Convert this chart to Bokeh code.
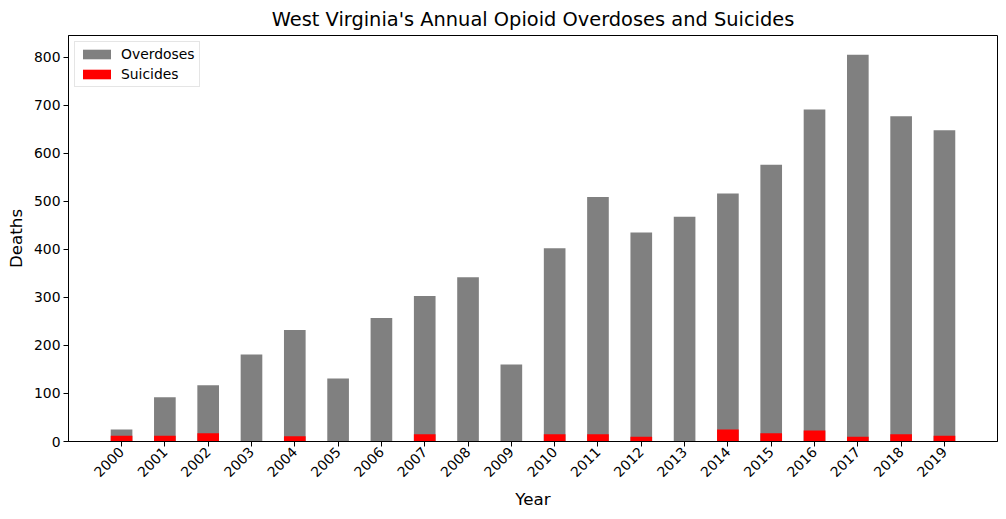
import math
from bokeh.plotting import figure
from bokeh.models import ColumnDataSource, Range1d, Legend, LegendItem, FixedTicker
from bokeh.embed import file_html
from bokeh.resources import INLINE

years = list(range(2000, 2020))
overdoses = [25, 92, 117, 181, 232, 131, 257, 303, 342, 160,
             402, 509, 435, 468, 516, 576, 691, 805, 677, 648]
suicides = [12, 12, 17, 0, 11, 0, 0, 15, 0, 0,
            15, 15, 10, 0, 25, 17, 23, 10, 15, 12]

FONT = "DejaVu Sans"
BAR_W = 0.5
PAD = 1.225  # half bar plus 5% of the data span on each side

src = ColumnDataSource(dict(year=years, overdoses=overdoses, suicides=suicides))

p = figure(
    width=1006, height=519,
    x_range=Range1d(years[0] - PAD, years[-1] + PAD),
    y_range=Range1d(0, 845),
    output_backend="svg", toolbar_location=None,
    min_border_left=68, min_border_right=9, min_border_top=33, min_border_bottom=78,
)

od = p.vbar(x="year", top="overdoses", width=BAR_W, source=src,
            fill_color="#808080", line_color=None)
su = p.vbar(x="year", top="suicides", width=BAR_W, source=src,
            fill_color="#ff0000", line_color=None)

p.title.text = "West Virginia's Annual Opioid Overdoses and Suicides"
p.title.text_font = FONT
p.title.text_font_size = "19.4px"
p.title.text_font_style = "normal"
p.title.align = "center"
p.title.text_color = "black"

p.xgrid.visible = False
p.ygrid.visible = False
p.outline_line_color = "black"
p.outline_line_width = 1
p.outline_line_alpha = 1

for ax in (p.xaxis[0], p.yaxis[0]):
    ax.axis_line_color = "black"
    ax.major_tick_line_color = "black"
    ax.major_tick_out = 5
    ax.major_tick_in = 0
    ax.minor_tick_line_color = None
    ax.major_label_text_font = FONT
    ax.major_label_text_font_size = "13.9px"
    ax.major_label_text_color = "black"
    ax.axis_label_text_font = FONT
    ax.axis_label_text_font_size = "16.7px"
    ax.axis_label_text_font_style = "normal"
    ax.axis_label_text_color = "black"
    ax.major_label_standoff = 3

p.xaxis.axis_label = "Year"
p.xaxis.ticker = FixedTicker(ticks=years)
p.xaxis.major_label_orientation = math.pi / 4
p.xaxis.axis_label_standoff = 4
p.yaxis.axis_label = "Deaths"
p.yaxis.axis_label_standoff = 5
p.yaxis.ticker = FixedTicker(ticks=list(range(0, 900, 100)))

legend = Legend(
    items=[LegendItem(label="Overdoses", renderers=[od]),
           LegendItem(label="Suicides", renderers=[su])],
    location="top_left",
    margin=6,
    padding=4,
    glyph_width=35, glyph_height=12,
    label_height=14, spacing=4,
    label_standoff=7,
    label_text_font=FONT, label_text_font_size="13.9px",
    label_text_color="black",
    border_line_color="#cccccc", border_line_width=1,
    background_fill_alpha=0.8,
)
p.add_layout(legend)

open("out.html", "w").write(file_html(p, INLINE))
